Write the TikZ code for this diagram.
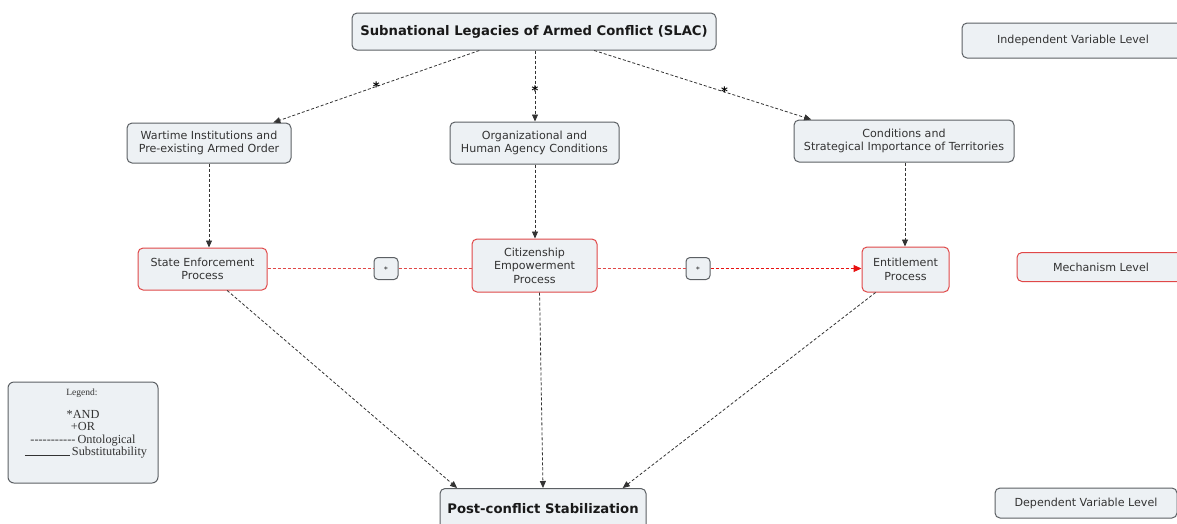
\documentclass[tikz,border=0pt]{standalone}
\usepackage{fontspec}
\usetikzlibrary{arrows.meta,calc}
\newfontfamily\dvs{DejaVu Sans}
\newfontfamily\lserif{Liberation Serif}
\definecolor{boxfill}{HTML}{EDF1F4}
\definecolor{boxline}{HTML}{5C6064}
\definecolor{redline}{HTML}{E04848}
\definecolor{redarrow}{HTML}{E81010}
\definecolor{txt}{HTML}{333333}
\tikzset{
  box/.style={draw=boxline, fill=boxfill, rounded corners=5pt, line width=1pt,
    align=center, inner sep=2pt, text=txt,
    font=\dvs\fontsize{11.1}{13.5}\selectfont},
  redbox/.style={box, draw=redline},
  titlebox/.style={box, text=black!90, font=\dvs\bfseries\fontsize{13.2}{15}\selectfont},
  andbox/.style={draw=boxline, fill=boxfill, rounded corners=4pt, line width=1pt,
    minimum width=24pt, minimum height=22pt, inner sep=0pt,
    font=\dvs\fontsize{8}{9}\selectfont},
  conn/.style={draw=black!80, line width=0.8pt, dash pattern=on 3pt off 2pt,
    -{Triangle[length=7pt,width=6pt]}},
  redconn/.style={draw=redline, line width=1pt, dash pattern=on 3pt off 2pt},
  star/.style={font=\dvs\bfseries\fontsize{13}{13}\selectfont, inner sep=0pt,
    text=black},
  legline/.style={anchor=base, inner sep=0pt, text=txt,
    font=\lserif\fontsize{12.3}{13}\selectfont}
}
\begin{document}
\begin{tikzpicture}[x=1pt,y=-1pt]
\useasboundingbox (0,0) rectangle (1177,523);

% top level
\node[titlebox, minimum width=364pt, minimum height=37pt] (slac) at (534,31.5)
  {Subnational Legacies of Armed Conflict (SLAC)};
\node[box, minimum width=222pt, minimum height=35pt] (ivl) at (1073,40.5)
  {Independent Variable Level};

% intermediate conditions
\node[box, minimum width=164pt, minimum height=40pt] (wart) at (209,143)
  {Wartime Institutions and\\Pre-existing Armed Order};
\node[box, minimum width=169pt, minimum height=42pt] (org) at (534.5,143)
  {Organizational and\\Human Agency Conditions};
\node[box, minimum width=220pt, minimum height=42pt] (cond) at (904,141)
  {Conditions and\\Strategical Importance of Territories};

% mechanisms
\node[redbox, minimum width=129pt, minimum height=42pt] (state) at (202.5,269)
  {State Enforcement\\Process};
\node[redbox, minimum width=125pt, minimum height=53pt] (citi) at (534.5,265.5)
  {Citizenship\\Empowerment\\Process};
\node[redbox, minimum width=87pt, minimum height=45pt] (entit) at (905.5,269.5)
  {Entitlement\\Process};
\node[redbox, minimum width=168pt, minimum height=29pt] (mech) at (1101,267)
  {Mechanism Level};
\node[andbox] (and1) at (386,268.5) {$\ast$};
\node[andbox] (and2) at (698,268.5) {$\ast$};

% outcome
\node[titlebox, minimum width=206pt, minimum height=44pt, anchor=north] (post) at (543,488)
  {\raisebox{4pt}{Post-conflict Stabilization}};
\node[box, minimum width=182pt, minimum height=30pt] (dvl) at (1086,503)
  {Dependent Variable Level};

% legend
\node[draw=boxline, fill=boxfill, rounded corners=6pt, line width=1pt,
  minimum width=150pt, minimum height=101pt, inner sep=0pt] (legend) at (83,432.5) {};
\node[legline, font=\lserif\fontsize{9.5}{10}\selectfont] (lg0) at (82,395) {Legend:};
\node[legline] (lg1) at (83,418) {*AND};
\node[legline] (lg2) at (83,430.5) {+OR};
\node[legline] (lg3) at (83,443) {-----------\,Ontological};
\node[legline] (lg4) at (86,455.5) {\rule{45pt}{0.5pt}\,Substitutability};

% guide coordinates for the vertical links
\coordinate (xw) at (209,0);
\coordinate (xo) at (535,0);
\coordinate (xc) at (905,0);

% independent level to conditions
\draw[conn] ($(slac.south west)!0.35!(slac.south east)$)
  -- ($(wart.north west)!0.89!(wart.north east)$)
  node[star, pos=0.5] (s1) {*};
\draw[conn] (slac.south -| xo) -- (org.north -| xo)
  node[star, pos=0.56] (s2) {*};
\draw[conn] ($(slac.south west)!0.665!(slac.south east)$)
  -- ($(cond.north west)!0.08!(cond.north east)$)
  node[star, pos=0.6] (s3) {*};

% conditions to mechanisms
\draw[conn] (wart.south -| xw) -- (state.north -| xw);
\draw[conn] (org.south -| xo) -- (citi.north -| xo);
\draw[conn] (cond.south -| xc) -- (entit.north -| xc);

% links between mechanisms
\draw[redconn] (state.east |- and1) -- (and1.west);
\draw[redconn] (and1.east) -- (citi.west |- and1);
\draw[redconn] (citi.east |- and2) -- (and2.west);
\draw[redconn, -{Triangle[length=8pt,width=7pt]}, redarrow] (and2.east) -- (entit.west |- and2);

% mechanisms to outcome
\draw[conn] ($(state.south west)!0.69!(state.south east)$)
  -- ($(post.north west)!0.085!(post.north east)$);
\draw[conn] ($(citi.south west)!0.54!(citi.south east)$) -- (post.north);
\draw[conn] ($(entit.south west)!0.16!(entit.south east)$)
  -- ($(post.north west)!0.885!(post.north east)$);
\end{tikzpicture}
\end{document}
